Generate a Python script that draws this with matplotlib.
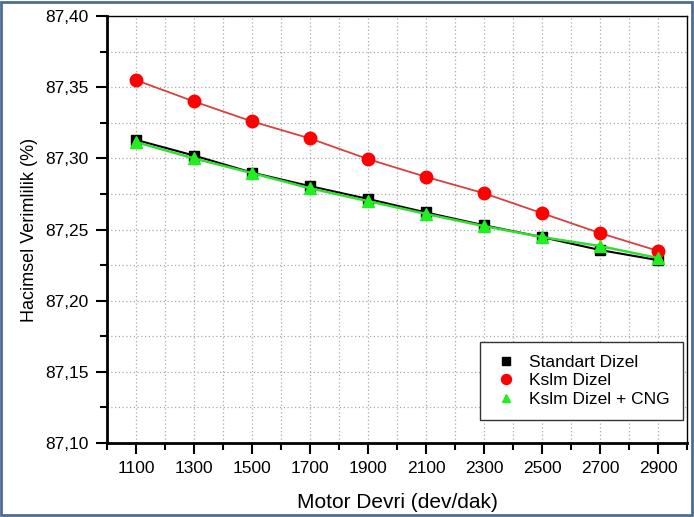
import matplotlib
matplotlib.use("Agg")
import matplotlib.pyplot as plt
from matplotlib.ticker import MultipleLocator, FuncFormatter
from matplotlib.patches import Rectangle

plt.rcParams['font.family'] = ['Liberation Sans', 'DejaVu Sans']

# engine speed (rpm) and volumetric efficiency (%)
devir = [1100, 1300, 1500, 1700, 1900, 2100, 2300, 2500, 2700, 2900]
standart = [87.313, 87.302, 87.290, 87.2805, 87.2715, 87.262, 87.253, 87.2447, 87.2356, 87.2285]
kslm = [87.355, 87.340, 87.326, 87.314, 87.2995, 87.287, 87.2755, 87.2615, 87.2475, 87.235]
kslm_cng = [87.3115, 87.300, 87.2897, 87.279, 87.270, 87.261, 87.2524, 87.2447, 87.2384, 87.230]

fig = plt.figure(figsize=(6.94, 5.17), dpi=100)
ax = fig.add_axes([0.154, 0.143, 0.836, 0.826])

ax.plot(devir, standart, color='black', lw=1.5, marker='s', ms=7,
        mfc='black', mec='black', label='Standart Dizel', zorder=3)
ax.plot(devir, kslm, color='#d84040', lw=1.3, marker='o', ms=9,
        mfc='red', mec='red', label='Kslm Dizel', zorder=3)
ax.plot(devir, kslm_cng, color='#33dd33', lw=1.8, marker='^', ms=8,
        mfc='#22ee22', mec='#22ee22', label='Kslm Dizel + CNG', zorder=4)

ax.set_xlim(1000, 3000)
ax.set_ylim(87.10, 87.40)
ax.set_xticks(devir)
ax.set_xticks(range(1000, 3001, 200), minor=True)
ax.yaxis.set_major_locator(MultipleLocator(0.05))
ax.yaxis.set_minor_locator(MultipleLocator(0.025))
ax.yaxis.set_major_formatter(FuncFormatter(lambda v, p: f"{v:.2f}".replace('.', ',')))

ax.grid(True, which='both', color='#aaaaaa', ls=(0, (1, 2)), lw=0.9)
ax.tick_params(which='major', direction='out', length=8, width=1.5, labelsize=12.5,
               top=False, right=False, pad=5)
ax.tick_params(which='minor', direction='out', length=5, width=1.5,
               top=False, right=False)

for side in ['left', 'bottom']:
    ax.spines[side].set_linewidth(2)
for side in ['top', 'right']:
    ax.spines[side].set_linewidth(1)

ax.set_xlabel('Motor Devri (dev/dak)', fontsize=15, labelpad=12)
ax.set_ylabel('Hacimsel Verimlilik (%)', fontsize=13, labelpad=5)

leg = ax.legend(loc='lower right', bbox_to_anchor=(0.993, 0.054), fontsize=12.5,
                fancybox=False, framealpha=1, edgecolor='#333333',
                markerscale=0.8, handlelength=1.5, handletextpad=0.6,
                borderpad=0.75, labelspacing=0.2, borderaxespad=0)
leg.get_frame().set_linewidth(1)
for line in leg.get_lines():
    line.set_linestyle('None')

# outer frame around the whole figure
fig.patches.append(Rectangle((0.002, 0.004), 0.995, 0.992, transform=fig.transFigure,
                             fill=False, edgecolor='#4f6d94', lw=2))

fig.savefig('out.png', dpi=100)
